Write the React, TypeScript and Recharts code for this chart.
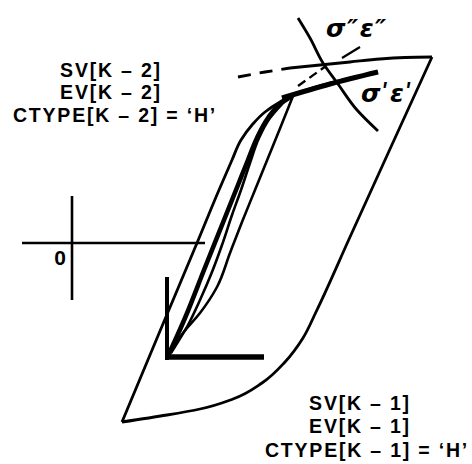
import React from "react";
import { ComposedChart, Line, XAxis, YAxis, Customized } from "recharts";

// Strain (x) and stress (y) in arbitrary units, origin at the drawn axes.
const axisStrain = [
  { x: -5.0, y: 0 },
  { x: 13.3, y: 0 },
];
const axisStress = [
  { x: 0, y: 4.7 },
  { x: 0, y: -5.7 },
];

// Loading branch from the lower reversal point up to σ'ε'
const loadingBranch = [
  { x: 5.0, y: -17.9 },
  { x: 8.8, y: -8.8 },
  { x: 12.5, y: 0 },
  { x: 14.7, y: 5.3 },
  { x: 16.0, y: 8.3 },
  { x: 16.9, y: 10.3 },
  { x: 18.0, y: 11.8 },
  { x: 19.3, y: 13.1 },
  { x: 20.8, y: 14.1 },
  { x: 22.8, y: 15.1 },
  { x: 25.8, y: 16.0 },
  { x: 30.6, y: 17.1 },
];
const sigmaPrimeBranch = [
  { x: 21.0, y: 14.5 },
  { x: 25.8, y: 15.9 },
  { x: 30.6, y: 17.1 },
];

// Current reversal (thick, ends in the arrow)
const reversalPath = [
  { x: 9.6, y: -11.3 },
  { x: 11.3, y: -7.5 },
  { x: 13.2, y: -2.7 },
  { x: 15.2, y: 2.3 },
  { x: 16.6, y: 5.8 },
  { x: 17.6, y: 8.3 },
  { x: 18.5, y: 10.5 },
  { x: 19.6, y: 12.5 },
  { x: 20.8, y: 13.9 },
  { x: 22.0, y: 14.7 },
];
const innerBranch = [
  { x: 9.9, y: -11.0 },
  { x: 11.6, y: -8.2 },
  { x: 12.8, y: -5.7 },
  { x: 14.0, y: -2.9 },
  { x: 15.0, y: -0.2 },
  { x: 16.0, y: 2.8 },
  { x: 16.9, y: 5.3 },
  { x: 17.8, y: 8.0 },
  { x: 18.7, y: 10.5 },
  { x: 19.8, y: 12.5 },
  { x: 21.0, y: 13.9 },
];
const unloadingBranch = [
  { x: 10.0, y: -10.7 },
  { x: 11.1, y: -9.0 },
  { x: 12.8, y: -7.0 },
  { x: 14.5, y: -4.4 },
  { x: 15.8, y: -1.0 },
  { x: 17.0, y: 2.1 },
  { x: 18.3, y: 5.3 },
  { x: 19.6, y: 8.5 },
  { x: 20.9, y: 11.7 },
  { x: 22.1, y: 14.7 },
];

// Outer hysteresis loop: lower branch and right edge up to the upper reversal
const outerLower = [
  { x: 5.0, y: -17.9 },
  { x: 9.5, y: -17.2 },
  { x: 12.8, y: -16.6 },
  { x: 16.1, y: -15.6 },
  { x: 19.0, y: -14.0 },
  { x: 21.3, y: -11.9 },
  { x: 23.1, y: -9.5 },
  { x: 24.4, y: -6.9 },
  { x: 27.8, y: 0.6 },
  { x: 31.8, y: 9.4 },
  { x: 36.0, y: 18.6 },
];
const outerTop = [
  { x: 21.8, y: 17.5 },
  { x: 24.8, y: 17.8 },
  { x: 27.8, y: 18.1 },
  { x: 30.8, y: 18.4 },
  { x: 33.3, y: 18.55 },
  { x: 36.0, y: 18.6 },
];
const outerTopExtension = [
  { x: 16.6, y: 16.6 },
  { x: 19.3, y: 17.1 },
  { x: 21.8, y: 17.5 },
];
const peakConnector = [
  { x: 22.6, y: 15.7 },
  { x: 25.4, y: 17.7 },
];

// Arc through σ''ε'' and σ'ε'
const crossingArc = [
  { x: 22.6, y: 22.5 },
  { x: 23.8, y: 20.5 },
  { x: 25.1, y: 18.0 },
  { x: 26.6, y: 15.9 },
  { x: 28.5, y: 13.3 },
  { x: 30.6, y: 11.2 },
];
const labelLeader = [
  { x: 27.0, y: 18.5 },
  { x: 28.8, y: 19.6 },
];

// Arrow head at the end of the reversal path
const arrowStem = [
  { x: 9.5, y: -3.4 },
  { x: 9.5, y: -11.7 },
];
const arrowFoot = [
  { x: 9.3, y: -11.4 },
  { x: 19.2, y: -11.4 },
];

const upperLabels = ["SV[K – 2]", "EV[K – 2]", "CTYPE[K – 2] = ‘H’"];
const lowerLabels = ["SV[K – 1]", "EV[K – 1]", "CTYPE[K – 1] = ‘H’"];

const INK = "#000";
const TEXT_FONT = "'Liberation Sans', Arial, Helvetica, sans-serif";
const GREEK_FONT = "'DejaVu Sans', 'Liberation Sans', sans-serif";

const Annotations = () => (
  <g fill={INK}>
    <g
      fontFamily={TEXT_FONT}
      fontWeight="bold"
      fontSize={19.5}
      letterSpacing={1.8}
      textAnchor="middle"
    >
      <text x={111} y={77}>{upperLabels[0]}</text>
      <text x={111} y={99}>{upperLabels[1]}</text>
      <text x={115} y={121.5}>{upperLabels[2]}</text>
      <text x={360} y={410}>{lowerLabels[0]}</text>
      <text x={360} y={433}>{lowerLabels[1]}</text>
      <text x={367} y={456.5}>{lowerLabels[2]}</text>
    </g>
    <text x={60} y={265} fontFamily={TEXT_FONT} fontWeight="bold" fontSize={21} textAnchor="middle">
      0
    </text>
    <g fontFamily={GREEK_FONT} fontWeight="bold" fontStyle="italic" fontSize={25}>
      <text x={326} y={37} letterSpacing={1.5}>σ″ε″</text>
      <text x={361} y={102} letterSpacing={1}>σʹεʹ</text>
    </g>
  </g>
);

type Pt = { x: number; y: number };
type Curve = "monotoneY" | "monotoneX" | "linear";

const seg = (key: string, data: Pt[], width: number, curve: Curve = "monotoneY", dash?: string) => (
  <Line
    key={key}
    data={data}
    dataKey="y"
    type={curve}
    stroke={INK}
    strokeWidth={width}
    strokeDasharray={dash}
    strokeLinecap="butt"
    strokeLinejoin="round"
    dot={false}
    activeDot={false}
    isAnimationActive={false}
  />
);

export default function App() {
  return (
    <div style={{ position: "absolute", left: 0, top: 0, background: "#fff" }}>
      <ComposedChart width={472} height={464} margin={{ top: 0, right: 0, bottom: 0, left: 0 }}>
        <XAxis type="number" dataKey="x" domain={[-7.2, 40]} hide allowDataOverflow />
        <YAxis type="number" domain={[-22.1, 24.3]} hide allowDataOverflow />
        {seg("axisStrain", axisStrain, 2.6, "linear")}
        {seg("axisStress", axisStress, 2.6, "linear")}
        {seg("outerLower", outerLower, 2.8)}
        {seg("outerTop", outerTop, 2.8, "monotoneX")}
        {seg("outerTopExtension", outerTopExtension, 2.8, "linear", "13 9")}
        {seg("peakConnector", peakConnector, 2.4, "linear", "9 5")}
        {seg("crossingArc", crossingArc, 2.8)}
        {seg("labelLeader", labelLeader, 2.2, "linear")}
        {seg("loadingBranch", loadingBranch, 2.8)}
        {seg("sigmaPrimeBranch", sigmaPrimeBranch, 5, "monotoneX")}
        {seg("innerBranch", innerBranch, 2.6)}
        {seg("unloadingBranch", unloadingBranch, 2.6)}
        {seg("reversalPath", reversalPath, 4.6)}
        {seg("arrowStem", arrowStem, 4, "linear")}
        {seg("arrowFoot", arrowFoot, 5.5, "linear")}
        <Customized component={Annotations} />
      </ComposedChart>
    </div>
  );
}
